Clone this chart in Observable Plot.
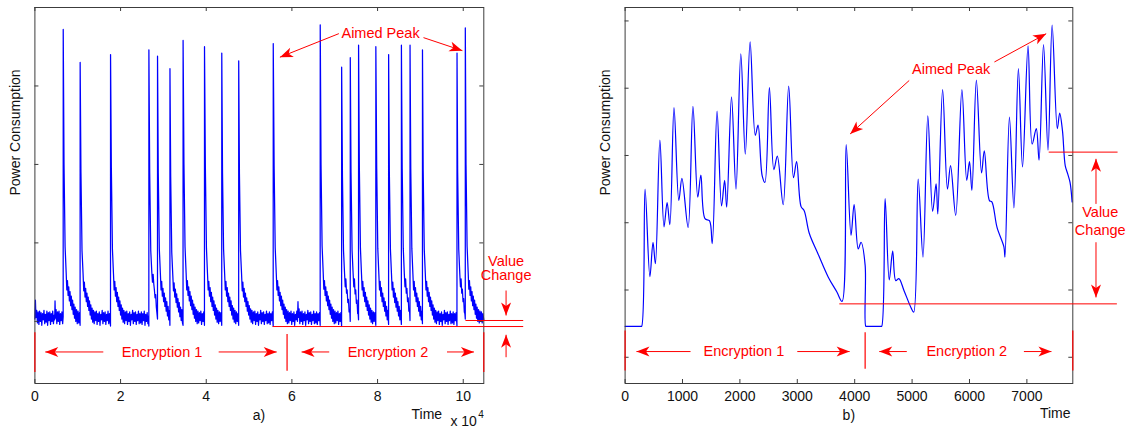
<!DOCTYPE html>
<html><head><meta charset="utf-8">
<script src="https://cdn.jsdelivr.net/npm/d3@7"></script>
<script src="https://cdn.jsdelivr.net/npm/@observablehq/plot@0.6"></script>
<style>
html,body{margin:0;padding:0;background:#fff;}
#wrap{position:relative;width:1131px;height:428px;overflow:hidden;background:#fff;}
#wrap svg{position:absolute;top:0;}
</style></head><body><div id="wrap"></div>
<script>
// ---------------- DATA: panel a) ----------------
const traceA = [
[0,0.03],[120,0.27],[250,0.05],[420,0.14],[590,-0.02],[760,0.12],[930,-0.04],[1100,0.13],[1270,0.00],[1440,0.11],[1610,-0.05],[1780,0.10],[1950,0.02],[2120,0.14],[2290,-0.03],[2460,0.09],[2630,-0.01],[2800,0.13],[2970,-0.05],[3140,0.11],[3310,0.01],[3480,0.12],[3650,-0.04],[3820,0.10],[3990,0.00],[4160,0.13],[4330,-0.03],[4500,0.08],[4620,0.02],[4700,0.26],[4800,0.04],[4950,0.15],[5120,-0.03],[5290,0.12],[5460,0.00],[5630,0.13],[5800,-0.04],[5970,0.10],[6140,0.01],[6310,0.12],[6480,-0.03],[6600,0.06],
[6613,3.72],[6800,2.0],[7050,0.95],[7300,0.62],[7450,0.40],[7600,0.52],[7750,0.33],[7900,0.44],[8050,0.26],[8200,0.38],[8350,0.20],[8500,0.32],[8650,0.15],[8800,0.27],[8950,0.09],[9100,0.22],[9250,0.04],[9400,0.18],[9550,0.00],[9720,0.15],[9890,-0.03],[10060,0.13],[10230,-0.02],[10400,0.11],[10550,-0.05],
[10565,3.30],[10750,1.9],[11000,0.9],[11250,0.6],[11400,0.39],[11550,0.50],[11700,0.31],[11850,0.42],[12000,0.25],[12150,0.36],[12300,0.19],[12450,0.31],[12600,0.14],[12750,0.26],[12900,0.08],[13050,0.21],[13200,0.03],[13350,0.17],[13500,-0.01],[13670,0.14],[13840,-0.03],[14010,0.12],[14180,0.01],[14350,0.13],[14520,-0.04],[14690,0.10],[14860,0.00],[15030,0.12],[15200,-0.05],[15370,0.09],[15540,0.02],[15710,0.14],[15880,-0.03],[16050,0.11],[16220,0.00],[16390,0.12],[16560,-0.04],[16730,0.09],[16900,0.01],[17070,0.13],[17240,-0.03],[17410,0.10],[17580,-0.02],[17650,-0.06],
[17661,3.40],[17850,1.95],[18100,0.92],[18350,0.6],[18500,0.40],[18650,0.51],[18800,0.32],[18950,0.43],[19100,0.25],[19250,0.37],[19400,0.19],[19550,0.31],[19700,0.14],[19850,0.26],[20000,0.08],[20150,0.21],[20300,0.03],[20450,0.17],[20600,-0.01],[20770,0.14],[20940,-0.03],[21110,0.12],[21280,0.01],[21450,0.13],[21620,-0.04],[21790,0.10],[21960,0.00],[22130,0.12],[22300,-0.05],[22470,0.09],[22640,0.02],[22810,0.14],[22980,-0.03],[23150,0.11],[23320,0.00],[23490,0.12],[23660,-0.04],[23830,0.09],[24000,0.01],[24170,0.13],[24340,-0.03],[24510,0.10],[24680,-0.02],[24850,0.12],[25020,-0.04],[25190,0.10],[25360,0.01],[25530,0.13],[25700,-0.05],[25870,0.09],[26040,0.00],[26210,0.11],[26380,-0.03],[26550,0.07],[26600,-0.06],
[26613,3.46],[26800,1.9],[27050,0.9],[27300,0.62],[27450,0.50],[27600,0.60],[27750,0.48],[27900,0.40],[28050,0.30],[28200,0.34],[28350,0.18],[28500,0.10],[28620,0.03],
[28629,3.38],[28800,1.9],[29050,0.92],[29300,0.6],[29450,0.40],[29600,0.51],[29750,0.32],[29900,0.42],[30050,0.25],[30200,0.36],[30350,0.19],[30500,0.30],[30650,0.13],[30800,0.25],[30950,0.07],[31100,0.19],[31250,0.02],[31400,0.14],[31520,-0.05],
[31532,3.22],[31700,1.85],[31950,0.88],[32200,0.58],[32350,0.39],[32500,0.49],[32650,0.31],[32800,0.41],[32950,0.24],[33100,0.35],[33250,0.18],[33400,0.29],[33550,0.12],[33700,0.24],[33850,0.06],[34000,0.18],[34150,0.01],[34300,0.15],[34450,-0.02],[34585,-0.05],
[34597,3.58],[34800,2.0],[35050,0.95],[35300,0.62],[35450,0.40],[35600,0.52],[35750,0.33],[35900,0.44],[36050,0.26],[36200,0.38],[36350,0.20],[36500,0.32],[36650,0.15],[36800,0.27],[36950,0.09],[37100,0.22],[37250,0.04],[37400,0.18],[37550,0.00],[37720,0.15],[37890,-0.03],[38060,0.13],[38230,-0.02],[38400,0.11],[38570,0.01],[38740,0.13],[38910,-0.04],[39080,0.10],[39250,0.00],[39420,0.12],[39585,-0.05],
[39597,3.50],[39800,1.95],[40050,0.93],[40300,0.6],[40450,0.40],[40600,0.51],[40750,0.32],[40900,0.43],[41050,0.25],[41200,0.37],[41350,0.19],[41500,0.31],[41650,0.14],[41800,0.26],[41950,0.08],[42100,0.21],[42250,0.03],[42400,0.17],[42550,-0.01],[42720,0.14],[42890,-0.03],[43060,0.12],[43230,0.00],[43400,0.11],[43615,-0.05],
[43629,3.42],[43800,1.9],[44050,0.92],[44300,0.6],[44450,0.40],[44600,0.51],[44750,0.32],[44900,0.43],[45050,0.25],[45200,0.36],[45350,0.19],[45500,0.31],[45650,0.14],[45800,0.26],[45950,0.08],[46100,0.20],[46250,0.03],[46400,0.17],[46550,-0.01],[46720,0.14],[46890,-0.03],[47060,0.12],[47230,0.00],[47400,0.10],[47570,-0.05],
[47581,3.32],[47750,1.88],[48000,0.9],[48250,0.6],[48400,0.39],[48550,0.50],[48700,0.31],[48850,0.42],[49000,0.25],[49150,0.36],[49300,0.19],[49450,0.30],[49600,0.13],[49750,0.25],[49900,0.08],[50050,0.20],[50200,0.03],[50350,0.16],[50500,-0.01],[50670,0.14],[50840,-0.03],[51010,0.12],[51180,0.01],[51350,0.13],[51520,-0.04],[51690,0.10],[51860,0.00],[52030,0.12],[52200,-0.05],[52370,0.09],[52540,0.02],[52710,0.14],[52880,-0.03],[53050,0.11],[53220,0.00],[53390,0.12],[53560,-0.04],[53730,0.09],[53900,0.01],[54070,0.13],[54240,-0.03],[54410,0.10],[54580,-0.02],[54750,0.12],[54920,-0.04],[55090,0.10],[55260,0.01],[55430,0.12],[55630,-0.06],
[55645,3.54],[55850,1.98],[56100,0.94],[56350,0.61],[56500,0.40],[56650,0.52],[56800,0.33],[56950,0.44],[57100,0.26],[57250,0.37],[57400,0.20],[57550,0.32],[57700,0.15],[57850,0.27],[58000,0.09],[58150,0.22],[58300,0.04],[58450,0.18],[58600,0.00],[58770,0.15],[58940,-0.03],[59110,0.13],[59280,-0.02],[59450,0.11],[59620,0.01],[59790,0.13],[59960,-0.04],[60130,0.10],[60300,0.00],[60470,0.12],[60640,-0.05],[60810,0.09],[60980,0.02],[61150,0.13],[61300,0.00],[61420,0.25],[61520,0.05],[61680,0.16],[61850,-0.03],[62020,0.12],[62190,0.00],[62360,0.13],[62530,-0.04],[62700,0.10],[62870,0.01],[63040,0.12],[63210,-0.05],[63380,0.09],[63550,0.02],[63720,0.14],[63890,-0.03],[64060,0.11],[64230,0.00],[64400,0.12],[64570,-0.04],[64740,0.09],[64910,0.01],[65080,0.13],[65250,-0.03],[65420,0.10],[65590,-0.02],[65760,0.12],[65930,-0.04],[66100,0.10],[66270,0.01],[66440,0.11],[66600,-0.05],
[66613,3.78],[66800,2.0],[67050,0.96],[67300,0.63],[67450,0.41],[67600,0.52],[67750,0.33],[67900,0.44],[68050,0.26],[68200,0.38],[68350,0.20],[68500,0.32],[68650,0.15],[68800,0.27],[68950,0.09],[69100,0.22],[69250,0.04],[69400,0.18],[69550,0.00],[69720,0.15],[69890,-0.03],[70060,0.13],[70230,-0.02],[70400,0.11],[70570,0.01],[70740,0.13],[70910,-0.04],[71080,0.10],[71250,0.00],[71420,0.11],[71600,-0.06],
[71613,3.24],[71800,1.85],[72050,0.9],[72300,0.6],[72450,0.44],[72600,0.54],[72750,0.36],[72900,0.40],[73050,0.24],[73200,0.28],[73350,0.12],[73500,0.15],[73620,0.0],
[73629,3.36],[73800,1.9],[74050,0.9],[74300,0.6],[74450,0.44],[74600,0.54],[74750,0.35],[74900,0.40],[75050,0.23],[75200,0.27],[75350,0.10],[75450,0.12],[75555,0.02],
[75565,3.52],[75750,1.95],[76000,0.93],[76250,0.6],[76400,0.40],[76550,0.51],[76700,0.32],[76850,0.43],[77000,0.25],[77150,0.37],[77300,0.19],[77450,0.31],[77600,0.14],[77750,0.26],[77900,0.08],[78050,0.21],[78200,0.03],[78350,0.17],[78500,-0.01],[78670,0.14],[78840,-0.03],[79010,0.12],[79180,0.00],[79350,0.11],[79585,-0.05],
[79597,3.50],[79800,1.95],[80050,0.93],[80300,0.6],[80450,0.40],[80600,0.51],[80750,0.32],[80900,0.43],[81050,0.25],[81200,0.36],[81350,0.19],[81500,0.30],[81650,0.13],[81800,0.25],[81950,0.07],[82100,0.19],[82250,0.02],[82400,0.14],[82570,-0.04],
[82581,3.40],[82750,1.9],[83000,0.92],[83250,0.6],[83400,0.40],[83550,0.50],[83700,0.31],[83850,0.42],[84000,0.24],[84150,0.36],[84300,0.18],[84450,0.30],[84600,0.13],[84750,0.25],[84900,0.07],[85050,0.19],[85200,0.02],[85350,0.14],[85555,-0.04],
[85565,3.52],[85750,1.95],[86000,0.93],[86250,0.6],[86400,0.44],[86550,0.54],[86700,0.36],[86850,0.42],[87000,0.25],[87150,0.30],[87300,0.13],[87450,0.16],[87570,0.01],
[87581,3.52],[87750,1.95],[88000,0.93],[88250,0.6],[88400,0.40],[88550,0.51],[88700,0.32],[88850,0.43],[89000,0.25],[89150,0.36],[89300,0.19],[89450,0.30],[89600,0.13],[89750,0.25],[89900,0.07],[90050,0.19],[90200,0.02],[90350,0.13],[90475,-0.03],
[90484,3.46],[90650,1.92],[90900,0.92],[91150,0.6],[91300,0.40],[91450,0.51],[91600,0.32],[91750,0.43],[91900,0.25],[92050,0.37],[92200,0.19],[92350,0.31],[92500,0.14],[92650,0.26],[92800,0.08],[92950,0.21],[93100,0.03],[93250,0.17],[93400,-0.01],[93570,0.14],[93740,-0.03],[93910,0.12],[94080,0.01],[94250,0.13],[94420,-0.04],[94590,0.10],[94760,0.00],[94930,0.12],[95100,-0.05],[95270,0.09],[95440,0.02],[95610,0.14],[95780,-0.03],[95950,0.11],[96120,0.00],[96290,0.12],[96460,-0.04],[96630,0.09],[96800,0.01],[96970,0.13],[97140,-0.03],[97310,0.10],[97480,-0.02],[97650,0.12],[97820,-0.04],[97990,0.10],[98160,0.01],[98330,0.11],[98535,-0.06],
[98548,3.42],[98700,1.9],[98950,0.92],[99200,0.6],[99350,0.44],[99500,0.54],[99650,0.36],[99800,0.41],[99950,0.25],[100100,0.29],[100250,0.12],[100380,0.1],[100475,0.03],
[100484,3.74],[100650,2.0],[100900,0.96],[101150,0.63],[101300,0.41],[101450,0.52],[101600,0.33],[101750,0.44],[101900,0.26],[102050,0.38],[102200,0.20],[102350,0.32],[102500,0.15],[102650,0.27],[102800,0.09],[102950,0.22],[103100,0.04],[103250,0.18],[103400,0.00],[103570,0.15],[103740,-0.02],[103910,0.13],[104080,0.00],[104250,0.12],[104420,-0.02],[104590,0.10],[104800,0.02]
];
const xTicksA = [0, 20000, 40000, 60000, 80000, 100000];
const xTickLabelsA = ["0", "2", "4", "6", "8", "10"];
const yTicksA = [0, 1, 2, 3, 4];
const redTextsA = [
  {t: 80700, v: 3.665, s: "Aimed Peak"},
  {t: 29677, v: -0.39, s: "Encryption 1"},
  {t: 82419, v: -0.39, s: "Encryption 2"},
  {t: 110000, v: 0.767, s: "Value"},
  {t: 110000, v: 0.584, s: "Change"}
];
const blackTextsA = [
  {t: 91500, v: -1.185, s: "Time"},
  {t: 52300, v: -1.206, s: "a)"},
  {t: 100100, v: -1.277, s: "x 10"}
];
const superTextsA = [{t: 104150, v: -1.19, s: "4"}];
const arrowsA = [
  {x1: 70968, y1: 3.667, x2: 57200, y2: 3.367},
  {x1: 90726, y1: 3.616, x2: 99800, y2: 3.45},
  {x1: 15968, y1: -0.39, x2: 2419, y2: -0.39},
  {x1: 42903, y1: -0.39, x2: 56452, y2: -0.39},
  {x1: 68710, y1: -0.39, x2: 62258, y2: -0.39},
  {x1: 96210, y1: -0.39, x2: 102500, y2: -0.39},
  {x1: 110000, y1: 0.393, x2: 110000, y2: 0.075},
  {x1: 110000, y1: -0.457, x2: 110000, y2: -0.171}
];
const hLinesA = [
  {x1: 55470, x2: 114000, y: -0.066},
  {x1: 100520, x2: 114000, y: 0.011}
];
const vLinesA = [
  {x: 0, y1: -0.138, y2: -0.644},
  {x: 58871, y1: -0.16, y2: -0.63},
  {x: 104800, y1: -0.138, y2: -0.644}
];

// ---------------- DATA: panel b) ----------------
const traceB = [
[0,0.46],[270,0.46],[288,0.46],[348,2.50],[432,1.20],[486,1.71],[528,1.39],[606,3.23],[678,1.94],[732,2.30],[780,1.97],[852,3.71],[936,2.33],[990,2.66],[1098,1.93],[1182,3.73],[1266,2.38],[1320,2.71],[1392,2.06],[1470,2.03],[1518,1.69],[1602,3.66],[1680,2.25],[1734,2.63],[1770,2.23],[1854,3.87],[1932,2.50],[2016,4.51],[2094,3.02],[2178,4.69],[2268,3.30],[2316,3.45],[2388,2.70],[2436,2.60],[2514,4.01],[2592,2.79],[2652,2.99],[2754,2.27],[2850,4.03],[2934,2.67],[2988,2.91],[3066,2.24],[3120,2.18],[3210,1.84],[3360,1.54],[3540,1.19],[3690,0.97],[3780,0.83],[3852,3.16],[3936,1.81],[3990,2.27],[4062,1.61],[4110,1.71],[4182,1.37],[4194,0.46],[4212,0.46],[4452,0.46],[4470,0.46],[4530,2.36],[4602,1.15],[4662,1.58],[4716,1.14],[4770,1.17],[4860,0.99],[4980,0.74],[5028,0.67],[5106,2.65],[5190,1.49],[5274,3.59],[5358,2.17],[5418,2.58],[5448,2.13],[5532,3.98],[5616,2.50],[5670,2.85],[5760,2.11],[5868,3.98],[5952,2.63],[6000,2.91],[6042,2.48],[6120,4.12],[6210,2.74],[6258,3.07],[6348,2.33],[6390,2.31],[6480,1.93],[6600,1.64],[6618,1.49],[6696,3.57],[6774,2.22],[6852,4.29],[6924,2.83],[7020,4.63],[7092,3.17],[7164,3.40],[7212,2.93],[7290,4.65],[7368,3.08],[7440,4.94],[7530,3.40],[7572,3.63],[7620,3.37],[7668,2.85],[7710,2.73],[7752,2.60],[7788,2.31]
];
const xTicksB = [0, 1000, 2000, 3000, 4000, 5000, 6000, 7000];
const xTickLabelsB = ["0", "1000", "2000", "3000", "4000", "5000", "6000", "7000"];
const yTicksB = [0, 1, 2, 3, 4, 5];
const redTextsB = [
  {t: 5680, v: 4.278, s: "Aimed Peak"},
  {t: 2070, v: 0.085, s: "Encryption 1"},
  {t: 5952, v: 0.085, s: "Encryption 2"},
  {t: 8278, v: 2.15, s: "Value"},
  {t: 8278, v: 1.89, s: "Change"}
];
const blackTextsB = [
  {t: 7493, v: -0.843, s: "Time"},
  {t: 3898, v: -0.868, s: "b)"}
];
const arrowsB = [
  {x1: 4950, y1: 4.115, x2: 3921, y2: 3.32},
  {x1: 6434, y1: 4.39, x2: 7336, y2: 4.81},
  {x1: 1140, y1: 0.085, x2: 198, y2: 0.085},
  {x1: 3000, y1: 0.085, x2: 3912, y2: 0.085},
  {x1: 4908, y1: 0.085, x2: 4428, y2: 0.085},
  {x1: 6948, y1: 0.085, x2: 7428, y2: 0.085},
  {x1: 8204, y1: 2.28, x2: 8204, y2: 2.95},
  {x1: 8204, y1: 1.71, x2: 8204, y2: 0.89}
];
const hLinesB = [
  {x1: 3732, x2: 8568, y: 0.794},
  {x1: 7380, x2: 8580, y: 3.05}
];
const vLinesB = [
  {x: 0, y1: 0.398, y2: -0.197},
  {x: 4182, y1: 0.373, y2: -0.171},
  {x: 7800, y1: 0.398, y2: -0.197}
];

// ---------------- STYLE / LAYOUT ----------------
const FONT = "'Liberation Sans', Arial, Helvetica, sans-serif";
const RED = "#ff0000";
const BLUE = "#0000ff";
const AXIS = "#3c3c3c";

// filled notched arrow head, tip at origin, pointing up
const headSymbol = {draw(ctx) {
  ctx.moveTo(0, 0); ctx.lineTo(-5, 13); ctx.lineTo(0, 9.5); ctx.lineTo(5, 13); ctx.closePath();
}};

function panel(cfg) {
  const {left, width, height, mL, mR, mT, mB, xDomain, yDomain, trace, curve, lineWidth,
         xTicks, xTickLabels, yTicks, redTexts, blackTexts, superTexts, arrows, hLines, vLines, yLabelDx} = cfg;
  const fw = width - mL - mR, fh = height - mT - mB;
  const sx = Plot.scale({x: {domain: xDomain, range: [mL, width - mR]}});
  const sy = Plot.scale({y: {domain: yDomain, range: [height - mB, mT]}});
  const ang = d => {
    const dx = sx.apply(d.x2) - sx.apply(d.x1);
    const dy = sy.apply(d.y2) - sy.apply(d.y1);
    return Math.atan2(dx, -dy) * 180 / Math.PI;
  };
  const labelOf = new Map(xTicks.map((t, i) => [t, xTickLabels[i]]));
  const svg = Plot.plot({
    width, height, marginLeft: mL, marginRight: mR, marginTop: mT, marginBottom: mB,
    style: {fontFamily: FONT, background: "transparent", overflow: "visible"},
    x: {domain: xDomain},
    y: {domain: yDomain, axis: null},
    marks: [
      Plot.line(trace, {x: d => d[0], y: d => d[1], stroke: BLUE, strokeWidth: lineWidth, curve}),
      Plot.ruleX(xTicks, {x: d => d, insetTop: fh - 4, stroke: AXIS}),
      Plot.ruleX(xTicks, {x: d => d, insetBottom: fh - 4, stroke: AXIS}),
      Plot.ruleY(yTicks, {y: d => d, insetRight: fw - 4, stroke: AXIS}),
      Plot.ruleY(yTicks, {y: d => d, insetLeft: fw - 4, stroke: AXIS}),
      Plot.frame({stroke: AXIS}),
      Plot.axisX(xTicks, {tickSize: 0, tickPadding: 8, fontSize: 14, tickFormat: d => labelOf.get(d), label: null, color: "#111"}),
      Plot.text(["Power Consumption"], {frameAnchor: "left", rotate: -90, dx: yLabelDx, fontSize: 14, fill: "#111"}),
      Plot.link(hLines, {x1: "x1", x2: "x2", y1: "y", y2: "y", stroke: RED, strokeWidth: 1}),
      Plot.link(vLines, {x1: "x", x2: "x", y1: "y1", y2: "y2", stroke: RED, strokeWidth: 1.2}),
      Plot.link(arrows, {x1: "x1", y1: "y1", x2: "x2", y2: "y2", stroke: RED, strokeWidth: 1}),
      Plot.dot(arrows, {x: "x2", y: "y2", symbol: headSymbol, rotate: ang, r: 5, fill: RED, stroke: "none"}),
      Plot.text(redTexts, {x: "t", y: "v", text: "s", fill: RED, fontSize: 14.5}),
      Plot.text(blackTexts, {x: "t", y: "v", text: "s", fill: "#111", fontSize: 14}),
      Plot.text(superTexts || [], {x: "t", y: "v", text: "s", fill: "#111", fontSize: 10})
    ]
  });
  svg.style.left = left + "px";
  document.getElementById("wrap").appendChild(svg);
}

panel({
  left: 0, width: 565, height: 428, mL: 34.4, mR: 81.7, mT: 7, mB: 45,
  xDomain: [0, 104800], yDomain: [-0.792, 4.0], trace: traceA, curve: "linear", lineWidth: 1.25,
  xTicks: xTicksA, xTickLabels: xTickLabelsA, yTicks: yTicksA,
  redTexts: redTextsA, blackTexts: blackTextsA, superTexts: superTextsA,
  arrows: arrowsA, hLines: hLinesA, vLines: vLinesA, yLabelDx: -19
});
panel({
  left: 565, width: 566, height: 428, mL: 59.6, mR: 58.7, mT: 7, mB: 45,
  xDomain: [0, 7800], yDomain: [-0.39, 5.2], trace: traceB, curve: "catmull-rom", lineWidth: 1.2,
  xTicks: xTicksB, xTickLabels: xTickLabelsB, yTicks: yTicksB,
  redTexts: redTextsB, blackTexts: blackTextsB, superTexts: [],
  arrows: arrowsB, hLines: hLinesB, vLines: vLinesB, yLabelDx: -19.3
});
</script></body></html>
